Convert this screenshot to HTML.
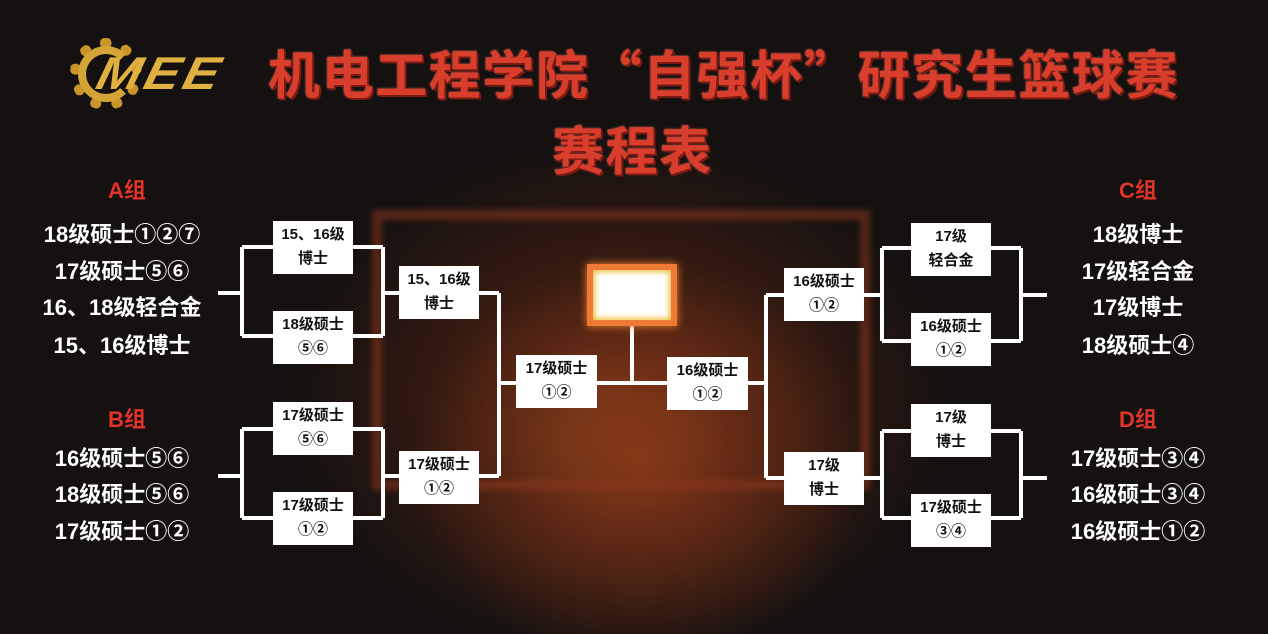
<!DOCTYPE html>
<html><head><meta charset="utf-8">
<style>
*{margin:0;padding:0;box-sizing:border-box}
body{width:1268px;height:634px;overflow:hidden;background:#141110;position:relative;font-family:"Liberation Sans","Noto Sans CJK SC",sans-serif}
.bg{position:absolute;inset:0;background:
radial-gradient(ellipse 230px 200px at 640px 460px,rgba(150,60,25,.75),rgba(0,0,0,0) 100%),
radial-gradient(ellipse 330px 260px at 620px 400px,rgba(120,45,20,.7),rgba(0,0,0,0) 100%),
radial-gradient(ellipse 120px 90px at 610px 430px,rgba(120,140,50,.35),rgba(0,0,0,0) 100%);}
.frame{position:absolute;left:372px;top:210px;width:498px;height:280px;border:10px solid rgba(140,55,30,.55);filter:blur(3px)}
.t{position:absolute;color:#d93d2c;font-weight:bold;font-size:52px;line-height:52px;white-space:nowrap;text-shadow:2px 2px 0 #7a1a12,0 0 2px #f07060;font-family:"Noto Sans CJK SC",sans-serif}
.g{position:absolute;color:#e0342a;font-weight:bold;font-size:22px;line-height:24px;transform:translate(-50%,-50%);white-space:nowrap}
.l{position:absolute;color:#fff;font-weight:bold;font-size:22px;line-height:24px;transform:translate(-50%,-50%);white-space:nowrap}
.b{position:absolute;background:#fff;color:#111;font-weight:bold;font-size:15px;line-height:24px;text-align:center;width:80px;height:53px;padding-top:2px}
svg{position:absolute;left:0;top:0}
</style></head><body>
<div class="bg"></div>
<div class="frame"></div>
<!-- logo -->
<div style="position:absolute;left:70px;top:38px;width:72px;height:72px;border-radius:50%;border:11px dotted #c9952a;"></div>
<div style="position:absolute;left:78px;top:46px;width:56px;height:56px;border-radius:50%;border:8px solid #d4a435;border-right-color:transparent"></div>
<div style="position:absolute;left:98px;top:50px;color:#e0b040;font-weight:bold;font-style:italic;font-size:46px;line-height:46px;letter-spacing:3px;transform:skewX(-14deg) scaleX(1.15);transform-origin:left">MEE</div>
<div class="t" style="left:268px;top:46px;letter-spacing:1.6px">机电工程学院“自强杯”研究生篮球赛</div>
<div class="t" style="left:552px;top:122px;letter-spacing:1.6px">赛程表</div>

<div class="g" style="left:127px;top:191px">A组</div>
<div class="l" style="left:122px;top:235px">18级硕士①②⑦</div>
<div class="l" style="left:122px;top:272px">17级硕士⑤⑥</div>
<div class="l" style="left:122px;top:308px">16、18级轻合金</div>
<div class="l" style="left:122px;top:346px">15、16级博士</div>
<div class="g" style="left:127px;top:420px">B组</div>
<div class="l" style="left:122px;top:459px">16级硕士⑤⑥</div>
<div class="l" style="left:122px;top:495px">18级硕士⑤⑥</div>
<div class="l" style="left:122px;top:532px">17级硕士①②</div>

<div class="g" style="left:1138px;top:191px">C组</div>
<div class="l" style="left:1138px;top:235px">18级博士</div>
<div class="l" style="left:1138px;top:272px">17级轻合金</div>
<div class="l" style="left:1138px;top:308px">17级博士</div>
<div class="l" style="left:1138px;top:346px">18级硕士④</div>
<div class="g" style="left:1138px;top:420px">D组</div>
<div class="l" style="left:1138px;top:459px">17级硕士③④</div>
<div class="l" style="left:1138px;top:495px">16级硕士③④</div>
<div class="l" style="left:1138px;top:532px">16级硕士①②</div>

<svg width="1268" height="634" fill="none" stroke="#fff" stroke-width="4">
<path d="M218 293H242M242 247V336M242 247H383M242 336H383M383 247V336M383 293H499M499 293V476M218 476H242M242 429V518M242 429H383M242 518H383M383 429V518M383 476H499M499 383H668M632 326V383"/>
<path d="M1047 295H1021M1021 248V341M1021 248H882M1021 341H882M882 248V341M882 295H766M766 295V478M1047 478H1021M1021 431V518M1021 431H882M1021 518H882M882 431V518M882 478H766M766 383H748"/>
</svg>
<div style="position:absolute;left:587px;top:264px;width:90px;height:62px;background:#fff;border:6px solid #ef7a35;box-shadow:inset 0 0 6px 2px #f3c040,0 0 8px #f08030"></div>

<div class="b" style="left:273px;top:221px">15、16级<br>博士</div>
<div class="b" style="left:273px;top:311px">18级硕士<br>⑤⑥</div>
<div class="b" style="left:273px;top:402px">17级硕士<br>⑤⑥</div>
<div class="b" style="left:273px;top:492px">17级硕士<br>①②</div>
<div class="b" style="left:399px;top:266px">15、16级<br>博士</div>
<div class="b" style="left:399px;top:451px">17级硕士<br>①②</div>
<div class="b" style="left:516px;top:355px;width:81px">17级硕士<br>①②</div>
<div class="b" style="left:667px;top:357px;width:81px">16级硕士<br>①②</div>
<div class="b" style="left:784px;top:268px">16级硕士<br>①②</div>
<div class="b" style="left:784px;top:452px">17级<br>博士</div>
<div class="b" style="left:911px;top:223px">17级<br>轻合金</div>
<div class="b" style="left:911px;top:313px">16级硕士<br>①②</div>
<div class="b" style="left:911px;top:404px">17级<br>博士</div>
<div class="b" style="left:911px;top:494px">17级硕士<br>③④</div>
</body></html>
